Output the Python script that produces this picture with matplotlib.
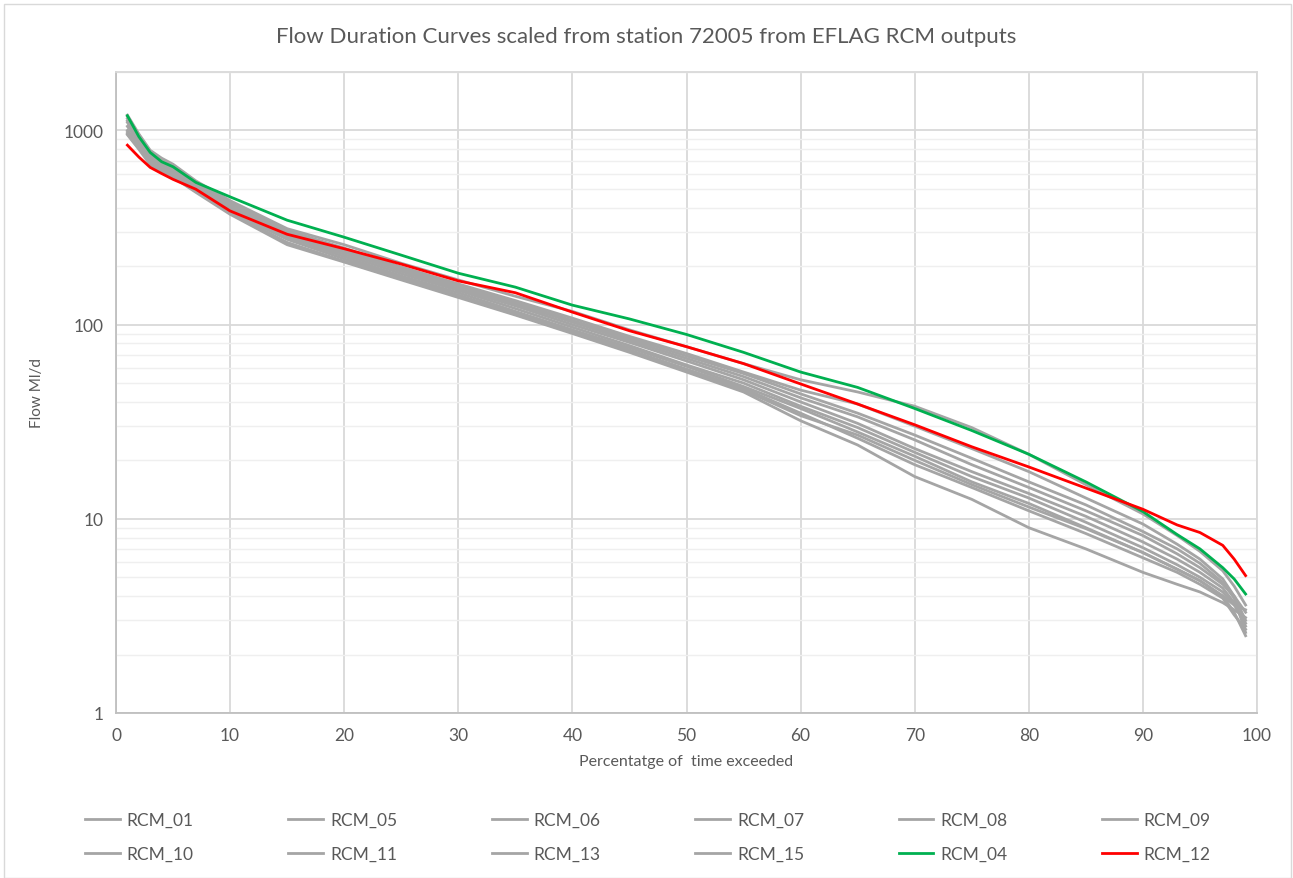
# Flow duration curves, station 72005, EFLAG RCM outputs
import matplotlib
matplotlib.use("Agg")
import matplotlib.pyplot as plt
from matplotlib.ticker import FixedLocator, NullFormatter, LogLocator
from matplotlib.patches import Rectangle

plt.rcParams['font.family'] = ['Lato', 'DejaVu Sans']

# percent of time exceeded
pct = [1, 2, 3, 4, 5, 7, 10, 15, 20, 25, 30, 35, 40, 45, 50, 55, 60, 65, 70, 75,
       80, 85, 90, 93, 95, 97, 98, 99]

# flows, Ml/d
rcm_01 = [1200, 960, 790, 720, 670, 550, 435, 312, 258, 207, 170, 140, 117, 94, 77, 63, 52, 45, 38, 29.5,
          21.5, 15.0, 10.6, 8.2, 6.8, 5.4, 4.5, 3.6]
rcm_05 = [1150, 930, 770, 700, 660, 540, 425, 305, 248, 198, 162, 133, 108, 87, 71, 57, 46, 39, 30, 23,
          17.5, 12.8, 9.4, 7.4, 6.2, 4.9, 4.0, 3.0]
rcm_06 = [1100, 900, 760, 690, 640, 530, 420, 300, 245, 196, 160, 130, 105, 85, 69, 56, 44, 35, 27, 20.5,
          15.5, 11.8, 8.6, 7.0, 5.9, 4.7, 3.9, 2.6]
rcm_07 = [1050, 870, 740, 680, 630, 525, 415, 298, 240, 192, 157, 128, 103, 83, 67, 54, 42, 33.5, 25.5, 19.0,
          14.5, 11.0, 8.2, 6.6, 5.6, 4.6, 4.0, 3.3]
rcm_08 = [1180, 950, 780, 710, 650, 535, 410, 295, 236, 188, 153, 125, 100, 81, 65, 52, 40, 31, 23, 17.5,
          13.5, 10.3, 7.6, 6.2, 5.3, 4.4, 3.7, 2.8]
rcm_09 = [1000, 840, 720, 660, 610, 510, 400, 288, 230, 183, 150, 121, 97, 78, 62, 50, 38, 29.5, 22, 16.5,
          12.8, 9.6, 7.1, 5.8, 5.0, 4.2, 3.6, 2.9]
rcm_10 = [1120, 910, 750, 680, 620, 505, 395, 282, 224, 178, 146, 117, 94, 76, 61, 48, 37, 28, 21, 15.5,
          12.0, 9.0, 6.7, 5.5, 4.8, 4.0, 3.3, 2.5]
rcm_11 = [980, 820, 700, 640, 600, 495, 385, 275, 218, 175, 142, 114, 92, 74, 59, 47, 35, 26, 19, 14.5,
          11.0, 8.4, 6.3, 5.3, 4.6, 3.9, 3.2, 2.7]
rcm_13 = [960, 810, 680, 625, 585, 485, 378, 265, 212, 172, 140, 113, 91, 73, 58, 46, 34, 27, 20, 15,
          11.5, 8.9, 6.7, 5.5, 4.8, 4.0, 3.6, 3.4]
rcm_15 = [950, 800, 665, 615, 575, 480, 370, 258, 210, 170, 138, 112, 90, 72, 57, 45, 32, 24, 16.5, 12.6,
          9.0, 7.0, 5.3, 4.6, 4.2, 3.7, 3.4, 3.1]
rcm_04 = [1190, 930, 770, 690, 650, 540, 455, 345, 282, 228, 184, 156, 126, 107, 89, 72, 57, 47.5, 37, 28.5,
          21.5, 15.5, 10.9, 8.3, 7.0, 5.6, 4.9, 4.1]
rcm_12 = [840, 730, 645, 600, 560, 498, 385, 292, 246, 205, 168, 146, 116, 93, 77, 63, 49.5, 39, 30.5, 23.5,
          18.5, 14.4, 11.2, 9.3, 8.5, 7.3, 6.2, 5.1]

grey_names = ["RCM_01", "RCM_05", "RCM_06", "RCM_07", "RCM_08", "RCM_09",
              "RCM_10", "RCM_11", "RCM_13", "RCM_15"]
grey_series = [rcm_01, rcm_05, rcm_06, rcm_07, rcm_08, rcm_09,
               rcm_10, rcm_11, rcm_13, rcm_15]

txt = "#595959"
grid_major = "#D9D9D9"
grid_minor = "#EFEFEF"

fig = plt.figure(figsize=(12.93, 8.79), dpi=100)
ax = fig.add_axes([116 / 1293, 1 - 714 / 879, (1257 - 116) / 1293, (714 - 73) / 879])

handles = {}
for name, vals in zip(grey_names, grey_series):
    handles[name], = ax.plot(pct, vals, color="#A5A5A5", lw=2.0, label=name)
handles["RCM_04"], = ax.plot(pct, rcm_04, color="#00B050", lw=2.0, label="RCM_04")
handles["RCM_12"], = ax.plot(pct, rcm_12, color="#FF0000", lw=2.0, label="RCM_12")

ax.set_yscale("log")
ax.set_xlim(0, 100)
ax.set_ylim(1, 2000)
ax.xaxis.set_major_locator(FixedLocator(range(0, 101, 10)))
ax.yaxis.set_major_locator(FixedLocator([1, 10, 100, 1000]))
ax.yaxis.set_minor_locator(LogLocator(base=10, subs=range(2, 10)))
ax.yaxis.set_minor_formatter(NullFormatter())
ax.set_yticklabels(["1", "10", "100", "1000"])

ax.grid(which="major", axis="both", color=grid_major, lw=1.3)
ax.grid(which="minor", axis="y", color=grid_minor, lw=1.0)
ax.set_axisbelow(True)
for s in ax.spines.values():
    s.set_color(grid_major)
    s.set_linewidth(1.3)
ax.spines["left"].set_color("#BFBFBF")
ax.spines["bottom"].set_color("#BFBFBF")
ax.tick_params(which="both", length=0, labelsize=12.5, colors=txt, pad=10)
ax.tick_params(axis="y", pad=9)

ax.set_xlabel("Percentatge of  time exceeded", fontsize=11.5, color=txt, labelpad=8)
ax.set_ylabel("Flow Ml/d", fontsize=11, color=txt, labelpad=14)
fig.text(0.5, 1 - 37 / 879, "Flow Duration Curves scaled from station 72005 from EFLAG RCM outputs",
         ha="center", va="center", fontsize=16, color=txt)

# legend, filled row by row like Excel
order = ["RCM_01", "RCM_10", "RCM_05", "RCM_11", "RCM_06", "RCM_13",
         "RCM_07", "RCM_15", "RCM_08", "RCM_04", "RCM_09", "RCM_12"]
leg = fig.legend([handles[n] for n in order], order, ncol=6, loc="center",
                 bbox_to_anchor=(648 / 1293, 1 - 838 / 879), frameon=False, fontsize=12.5,
                 handlelength=2.0, handletextpad=0.4, columnspacing=5.45, labelspacing=1.05)
for t in leg.get_texts():
    t.set_color(txt)

fig.patches.append(Rectangle((4 / 1293, 0), 1287 / 1293, 1 - 5 / 879, transform=fig.transFigure,
                             fill=False, edgecolor=grid_major, lw=1.0))

fig.savefig("out.png", dpi=100)
